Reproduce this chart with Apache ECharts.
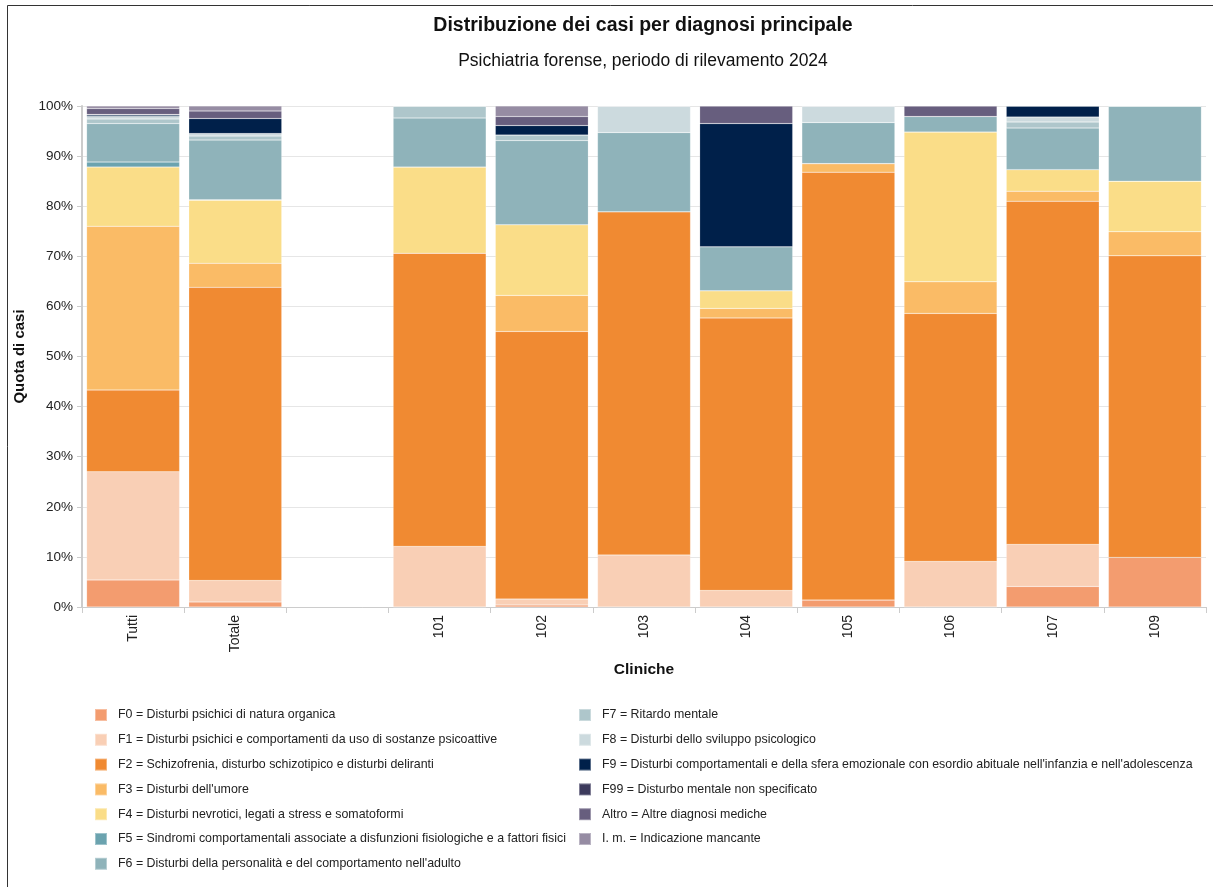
<!DOCTYPE html>
<html><head><meta charset="utf-8">
<script src="https://cdn.jsdelivr.net/npm/echarts@6/dist/echarts.min.js"></script>
<style>html,body{margin:0;padding:0;background:#fff}#c{width:1213px;height:887px}</style>
</head><body><div id="c"></div>
<script>
const categories = ['Tutti','Totale','','101','102','103','104','105','106','107','109'];
const seriesNames = [
  'F0 = Disturbi psichici di natura organica',
  'F1 = Disturbi psichici e comportamenti da uso di sostanze psicoattive',
  'F2 = Schizofrenia, disturbo schizotipico e disturbi deliranti',
  "F3 = Disturbi dell'umore",
  'F4 = Disturbi nevrotici, legati a stress e somatoformi',
  'F5 = Sindromi comportamentali associate a disfunzioni fisiologiche e a fattori fisici',
  "F6 = Disturbi della personalità e del comportamento nell'adulto",
  'F7 = Ritardo mentale',
  'F8 = Disturbi dello sviluppo psicologico',
  "F9 = Disturbi comportamentali e della sfera emozionale con esordio abituale nell'infanzia e nell'adolescenza",
  'F99 = Disturbo mentale non specificato',
  'Altro = Altre diagnosi mediche',
  'I. m. = Indicazione mancante'
];
const colors = ['#F39C6F','#F9CFB5','#F08A32','#FABB66','#FADD88','#6BA3AF','#8FB3BA','#AEC6CB','#CCDADE','#00204A','#3C3A5C','#675E7E','#968CA3'];
// values in % per category (Tutti, Totale, gap, 101..109)
const F0   = [5.4, 1.0, null, 0,    0.4,  0,    0,    1.4,  0,    4.1, 9.9];
const F1   = [21.6,4.3, null, 12.1, 1.2,  10.4, 3.3,  0,    9.1,  8.4, 0];
const F2   = [16.3,58.5,null, 58.5, 53.4, 68.5, 54.4, 85.4, 49.5, 68.5,60.2];
const F3   = [32.7,4.8, null, 0,    7.2,  0,    1.9,  1.7,  6.3,  2.0, 4.8];
const F4   = [11.8,12.6,null, 17.2, 14.1, 0,    3.5,  0,    29.9, 4.3, 10.1];
const F5   = [1.0, 0.1, null, 0,    0,    0,    0,    0,    0,    0,   0];
const F6   = [7.7, 11.9,null, 9.8,  16.8, 15.8, 8.8,  8.2,  3.1,  8.3, 15.0];
const F7   = [0.9, 0.8, null, 2.4,  1.1,  0,    0,    0,    0,    1.2, 0];
const F8   = [0.5, 0.5, null, 0,    0,    5.3,  0,    3.3,  0,    1.0, 0];
const F9   = [0.3, 3.0, null, 0,    1.9,  0,    24.6, 0,    0,    2.2, 0];
const F99  = [0.1, 0,   null, 0,    0,    0,    0,    0,    0,    0,   0];
const Altro= [1.2, 1.5, null, 0,    1.8,  0,    3.5,  0,    2.1,  0,   0];
const IM   = [0.5, 1.0, null, 0,    2.1,  0,    0,    0,    0,    0,   0];
const seriesValues = [F0,F1,F2,F3,F4,F5,F6,F7,F8,F9,F99,Altro,IM];
const yTicks = [0,10,20,30,40,50,60,70,80,90,100];
const titleText = 'Distribuzione dei casi per diagnosi principale';
const subtitleText = 'Psichiatria forense, periodo di rilevamento 2024';

const font = '"Liberation Sans", Arial, sans-serif';
const chart = echarts.init(document.getElementById('c'), null, {renderer:'canvas'});
const series = seriesNames.map((n,i)=>({
  name:n, type:'bar', stack:'s', data:seriesValues[i],
  barCategoryGap:'9%',
  itemStyle:{color:colors[i], borderColor:'rgba(255,255,255,0.35)', borderWidth:0.5},
  emphasis:{disabled:true}
}));
const legendText = {fontFamily:font, fontSize:12.4, color:'#222', padding:[0,0,0,6]};
chart.setOption({
  animation:false,
  color:colors,
  textStyle:{fontFamily:font},
  graphic:[
    {type:'rect', shape:{x:7.5,y:5.5,width:1210,height:890}, style:{fill:'none', stroke:'#333', lineWidth:1}, silent:true},
    {type:'text', x:643, y:26, style:{text:titleText, fontFamily:font, fontSize:19.5, fontWeight:'bold', fill:'#111', textAlign:'center', textVerticalAlign:'middle'}, silent:true},
    {type:'text', x:643, y:61, style:{text:subtitleText, fontFamily:font, fontSize:17.5, fill:'#111', textAlign:'center', textVerticalAlign:'middle'}, silent:true}
  ],
  legend:[
    {data:seriesNames.slice(0,7), orient:'vertical', left:94, top:708, padding:0, height:180, itemWidth:12, itemHeight:12, itemGap:10.8, icon:'rect', textStyle:legendText, selectedMode:false},
    {data:seriesNames.slice(7), orient:'vertical', left:578, top:708, padding:0, height:180, itemWidth:12, itemHeight:12, itemGap:10.8, icon:'rect', textStyle:legendText, selectedMode:false}
  ],
  grid:{left:82, right:7, top:106, bottom:280, containLabel:false},
  xAxis:{type:'category', data:categories, name:'Cliniche', nameLocation:'middle', nameGap:55,
    nameTextStyle:{fontFamily:font, fontSize:15.5, fontWeight:'bold', color:'#111'},
    axisLine:{lineStyle:{color:'#cccccc', width:1}},
    axisTick:{show:true, length:6, lineStyle:{color:'#cccccc'}},
    axisLabel:{rotate:90, fontSize:14, color:'#222', fontFamily:font, margin:8}},
  yAxis:{type:'value', min:0, max:100, interval:10, name:'Quota di casi', nameLocation:'middle', nameGap:47,
    nameTextStyle:{fontFamily:font, fontSize:15, fontWeight:'bold', color:'#111'},
    axisLine:{show:true, lineStyle:{color:'#cccccc', width:2}},
    axisTick:{show:true, length:5, lineStyle:{color:'#cccccc'}},
    splitLine:{lineStyle:{color:'#e6e6e6'}},
    axisLabel:{fontSize:13.5, color:'#222', fontFamily:font, margin:9,
      formatter:v=> yTicks.includes(v) ? v+'%' : ''}},
  series:series
});
</script></body></html>
